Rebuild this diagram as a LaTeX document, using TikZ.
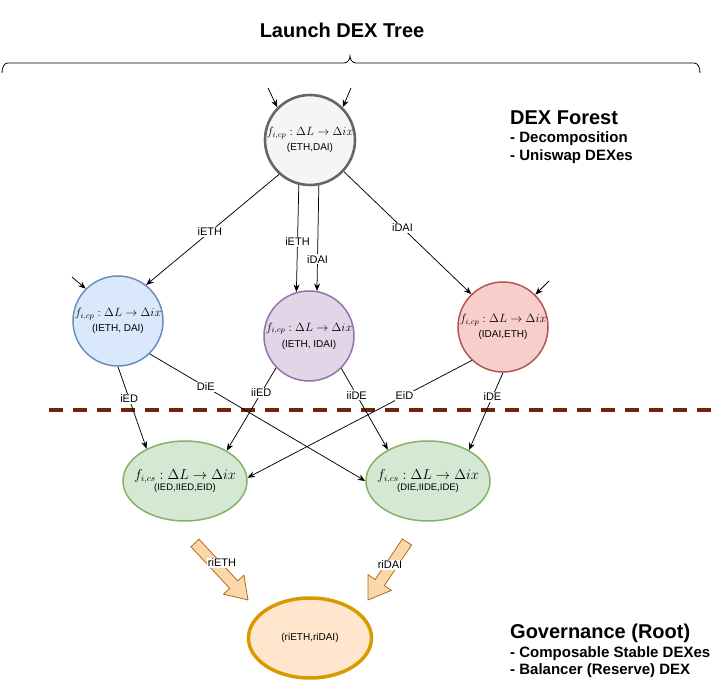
\documentclass[tikz,border=0pt]{standalone}
\usepackage[no-math]{fontspec}
\setmainfont{Liberation Sans}
\usetikzlibrary{arrows.meta,calc,shapes.geometric}
\definecolor{grayS}{HTML}{666666}
\definecolor{grayF}{HTML}{F5F5F5}
\definecolor{blueS}{HTML}{6C8EBF}
\definecolor{blueF}{HTML}{DAE8FC}
\definecolor{purpS}{HTML}{9673A6}
\definecolor{purpF}{HTML}{E1D5E7}
\definecolor{redS}{HTML}{B85450}
\definecolor{redF}{HTML}{F8CECC}
\definecolor{grnS}{HTML}{82B366}
\definecolor{grnF}{HTML}{D5E8D4}
\definecolor{orgS}{HTML}{D79B00}
\definecolor{orgF}{HTML}{FFE6CC}
\definecolor{barS}{HTML}{B46504}
\definecolor{barF}{HTML}{FAD7AC}
\definecolor{dashC}{RGB}{110,38,10}
\newcommand{\fmath}[1]{$f_{i,#1}: \Delta L \to \Delta ix$}
\newcommand{\blockarrow}[2]{%
  \coordinate (hb) at ($(#2)!21pt!(#1)$);
  \filldraw[bigarr] ($(#1)!5.5pt!90:(#2)$) -- ($(hb)!5.5pt!90:(#2)$) -- ($(hb)!14pt!90:(#2)$) -- (#2)
    -- ($(hb)!14pt!-90:(#2)$) -- ($(hb)!5.5pt!-90:(#2)$) -- ($(#1)!5.5pt!-90:(#2)$) -- cycle;}
\begin{document}
\begin{tikzpicture}[x=1pt,y=-1pt,
  dex/.style={circle, minimum size=90pt, inner sep=-10pt, align=center, font=\fontsize{12}{15}\selectfont},
  cs/.style={ellipse, draw=grnS, fill=grnF, line width=1.5pt, minimum width=124pt, minimum height=80pt, inner xsep=-25pt, inner ysep=-8pt, align=center, font=\fontsize{13.5}{15}\selectfont},
  edge/.style={line width=0.75pt, -{Stealth[length=7.5pt,width=6pt]}},
  elabel/.style={fill=white, inner sep=1pt, font=\fontsize{11}{13}\selectfont},
  bigarr/.style={draw=barS, fill=barF, line width=0.75pt},
  title/.style={font=\fontsize{20}{23}\selectfont\bfseries},
  item/.style={anchor=west, inner sep=0pt, font=\fontsize{15}{17}\selectfont\bfseries}
]
\useasboundingbox (0,0) rectangle (724,700);

% dashed separator
\draw[dashC, line width=4pt, dash pattern=on 14pt off 10pt] (49,410) -- (712,410);

% brace and title
\node[title] (t) at (342,30) {Launch DEX Tree};
\draw[line width=0.8pt] (2,73) to[out=90,in=180] (8,63) -- (344,63) to[out=0,in=270] (350,56)
  to[out=270,in=180] (356,63) -- (694,63) to[out=0,in=90] (700,73);

% side texts
\node[title, anchor=west, inner sep=0pt] (f1) at (510,118) {DEX Forest};
\node[item] (f2) at (510,139) {- Decomposition};
\node[item] (f3) at (510,157) {- Uniswap DEXes};
\node[title, anchor=west, inner sep=0pt] (g1) at (510,633) {Governance (Root)};
\node[item] (g2) at (510,654) {- Composable Stable DEXes};
\node[item] (g3) at (510,671) {- Balancer (Reserve) DEX};

% nodes
\node[dex, draw=grayS, fill=grayF, line width=2.6pt] (A) at (310,140)
  {\fmath{cp}\\{\fontsize{10}{12}\selectfont (ETH,DAI)}};
\node[dex, draw=blueS, fill=blueF, line width=1.5pt] (B) at (118,321)
  {\fmath{cp}\\{\fontsize{10}{12}\selectfont (IETH, DAI)}};
\node[dex, draw=purpS, fill=purpF, line width=1.5pt] (C) at (309,336)
  {\fmath{cp}\\[1pt]{\fontsize{10}{12}\selectfont (IETH, IDAI)}};
\node[dex, draw=redS, fill=redF, line width=1.5pt] (D) at (503,327)
  {\fmath{cp}\\{\fontsize{10}{12}\selectfont (IDAI,ETH)}};
\node[cs] (E1) at (185,481)
  {\fmath{cs}\\[-4pt]{\fontsize{9.5}{11}\selectfont (IED,IIED,EID)}};
\node[cs] (E2) at (428,481)
  {\fmath{cs}\\[-4pt]{\fontsize{9.5}{11}\selectfont (DIE,IIDE,IDE)}};
\node[ellipse, draw=orgS, fill=orgF, line width=3.5pt, minimum width=123pt, minimum height=80pt,
  inner sep=0pt, font=\fontsize{10}{12}\selectfont] (G) at (310,638) {(riETH,riDAI)};

% incoming free arrows
\coordinate (a1) at (268,88);
\coordinate (a2) at (351,88);
\coordinate (b1) at (72,277);
\coordinate (d1) at (549,281);
\draw[edge] (a1) -- (A.135);
\draw[edge] (a2) -- (A.45);
\draw[edge] (b1) -- (B.135);
\draw[edge] (d1) -- (D.45);

% edges
\draw[edge] (A.228) -- node[elabel,pos=.52]{iETH} (B.52);
\draw[edge] (A.256) -- node[elabel,pos=.53]{iETH} (C.106);
\draw[edge] (A.281) -- node[elabel,pos=.7]{iDAI} (C.80);
\draw[edge] (A.317) -- node[elabel,pos=.46]{iDAI} (D.134);
\draw[edge] (B.270) -- node[elabel,pos=.39]{iED} (E1.140);
\draw[edge] (B.314) -- node[elabel,pos=.26]{DiE} (E2.180);
\draw[edge] (C.224) -- node[elabel,pos=.3]{iiED} (E1.36);
\draw[edge] (C.315) -- node[elabel,pos=.33]{iiDE} (E2.142);
\draw[edge] (D.227) -- node[elabel,pos=.3]{EiD} (E1.3);
\draw[edge] (D.270) -- node[elabel,pos=.31]{iDE} (E2.37);

% block arrows into root
\coordinate (s1) at (195,543);
\coordinate (t1) at (248,600);
\coordinate (s2) at (407,542);
\coordinate (t2) at (368,600);
\blockarrow{s1}{t1}
\blockarrow{s2}{t2}
\node[elabel] (l1) at (222,563) {riETH};
\node[elabel] (l2) at (390,565) {riDAI};
\end{tikzpicture}
\end{document}
